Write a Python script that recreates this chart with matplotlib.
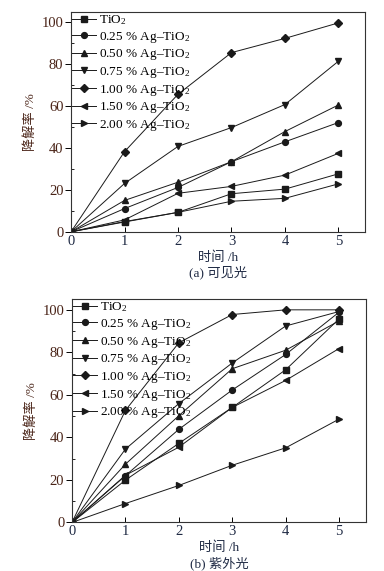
import numpy as np
import matplotlib
matplotlib.use("Agg")
import matplotlib.pyplot as plt
from matplotlib.ticker import MultipleLocator

plt.rcParams['font.family'] = ['Liberation Serif', 'Noto Sans CJK SC']
plt.rcParams['mathtext.fontset'] = 'custom'
plt.rcParams['mathtext.rm'] = 'Liberation Serif'
plt.rcParams['mathtext.default'] = 'regular'

hours = [0, 1, 2, 3, 4, 5]
labels = ['TiO$_2$', '0.25 % Ag–TiO$_2$', '0.50 % Ag–TiO$_2$', '0.75 % Ag–TiO$_2$',
          '1.00 % Ag–TiO$_2$', '1.50 % Ag–TiO$_2$', '2.00 % Ag–TiO$_2$']
markers = ['s', 'o', '^', 'v', 'D', '<', '>']

# (a) visible light
vis_tio2 = [0, 4.7, 9.3, 18.2, 20.4, 27.7]
vis_025 = [0, 11.1, 21.2, 33.5, 43.0, 52.2]
vis_050 = [0, 15.0, 23.7, 33.5, 47.9, 60.6]
vis_075 = [0, 23.1, 40.8, 49.8, 60.8, 81.5]
vis_100 = [0, 38.3, 65.7, 85.6, 92.4, 99.8]
vis_150 = [0, 5.7, 18.4, 21.7, 27.1, 37.5]
vis_200 = [0, 4.9, 9.3, 14.6, 16.0, 22.9]

# (b) UV light
uv_tio2 = [0, 19.9, 37.2, 54.1, 71.8, 95.7]
uv_025 = [0, 22.0, 43.8, 62.3, 79.0, 98.9]
uv_050 = [0, 27.4, 50.2, 72.3, 81.0, 94.8]
uv_075 = [0, 34.5, 55.9, 75.0, 92.4, 99.2]
uv_100 = [0, 52.7, 84.5, 97.8, 100.0, 100.0]
uv_150 = [0, 22.2, 35.4, 54.1, 66.8, 81.8]
uv_200 = [0, 8.9, 17.4, 26.9, 35.1, 48.6]

ycol = '#4a2418'
xcol = '#1f2a44'


def draw_panel(ax, series, caption):
    for vals, lab, m in zip(series, labels, markers):
        ms = 3.6 if m == 'D' else 4.2
        ax.plot(hours, vals, marker=m, ms=ms, color='#1a1a1a', lw=0.7, label=lab)
    ax.set_xlim(0, 5.5)
    ax.set_ylim(0, 105)
    ax.set_xticks(hours)
    ax.set_yticks([0, 20, 40, 60, 80, 100])
    ax.yaxis.set_minor_locator(MultipleLocator(10))
    ax.tick_params(axis='y', which='major', direction='out', length=4, labelsize=10.5,
                   labelcolor=ycol, width=0.7, pad=1.5)
    ax.tick_params(axis='y', which='minor', direction='in', length=2.5, width=0.6)
    ax.tick_params(axis='x', direction='in', length=3.5, labelsize=10.5,
                   labelcolor=xcol, width=0.7, pad=2)
    for s in ax.spines.values():
        s.set_linewidth(0.8)
        s.set_color('#333333')
    ax.set_ylabel('降解率 /%', fontsize=9.5, color=ycol, labelpad=3)
    ax.set_xlabel('时间 /h\n' + caption, fontsize=9.5, color=xcol, labelpad=2.5,
                  linespacing=1.2)
    ax.legend(loc='upper left', frameon=False, fontsize=9.5, handlelength=1.8,
              handletextpad=0.2, labelspacing=0.2, borderaxespad=0.0,
              borderpad=0.1)


fig = plt.figure(figsize=(3.84, 5.71), dpi=100)
ax1 = fig.add_axes([0.185, 0.594, 0.766, 0.385])
ax2 = fig.add_axes([0.1875, 0.085, 0.765, 0.391])

draw_panel(ax1, [vis_tio2, vis_025, vis_050, vis_075, vis_100, vis_150, vis_200], '(a) 可见光')
draw_panel(ax2, [uv_tio2, uv_025, uv_050, uv_075, uv_100, uv_150, uv_200], '(b) 紫外光')

fig.savefig('out.png', dpi=100)
